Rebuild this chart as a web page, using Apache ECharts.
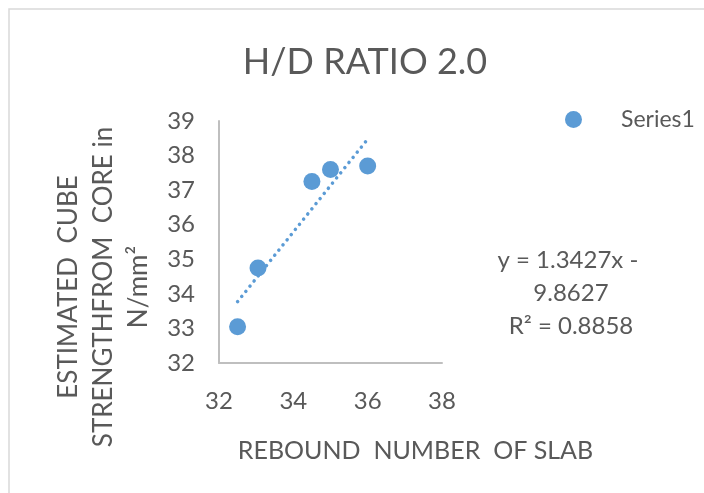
<!DOCTYPE html>
<html>
<head>
<meta charset="utf-8">
<script src="https://cdn.jsdelivr.net/npm/echarts@6/dist/echarts.min.js"></script>
<style>
  html, body { margin: 0; padding: 0; background: #fff; }
  #chart { width: 704px; height: 493px; }
</style>
</head>
<body>
<div id="chart"></div>
<script>
// data
const reboundNumber = [32.5, 33.05, 34.5, 35.0, 36.0];
const cubeStrength = [33.05, 34.75, 37.25, 37.6, 37.7];
// linear trendline as printed on the chart
const trendSlope = 1.3427;
const trendIntercept = -9.8627;
const trendR2 = 0.8858;

const xTicks = [32, 34, 36, 38];
const yTicks = [32, 33, 34, 35, 36, 37, 38, 39];

const textColor = '#595959';
const blue = '#5b9bd5';
const font = 'Lato';

const points = reboundNumber.map((x, i) => [x, cubeStrength[i]]);
const xMin = Math.min(...reboundNumber);
const xMax = Math.max(...reboundNumber);
const trendLine = [xMin, xMax].map(x => [x, trendSlope * x + trendIntercept]);

const myChart = echarts.init(document.getElementById('chart'));

const option = {
  backgroundColor: '#fff',
  animation: false,
  textStyle: { fontFamily: font },
  title: {
    text: 'H/D RATIO 2.0',
    left: 360,
    top: 39,
    textAlign: 'center',
    textStyle: { fontFamily: font, fontSize: 36, fontWeight: 'normal', color: textColor }
  },
  legend: {
    data: [{ name: 'Series1', icon: 'circle' }],
    left: 560,
    top: 103,
    itemWidth: 17,
    itemHeight: 17,
    textStyle: { fontFamily: font, fontSize: 23, color: textColor, padding: [0, 0, 0, 34] }
  },
  grid: { left: 219, top: 121, right: 262, bottom: 130 },
  xAxis: {
    type: 'value',
    min: xTicks[0],
    max: xTicks[xTicks.length - 1],
    interval: 2,
    name: 'REBOUND  NUMBER  OF SLAB',
    nameLocation: 'middle',
    nameGap: 75,
    nameTextStyle: { fontFamily: font, fontSize: 25, color: textColor, padding: [0, 0, 0, 170] },
    axisLine: { lineStyle: { color: '#bfbfbf', width: 2 } },
    axisTick: { show: false },
    splitLine: { show: false },
    axisLabel: { fontFamily: font, fontSize: 24, color: textColor, margin: 26 }
  },
  yAxis: {
    type: 'value',
    min: yTicks[0],
    max: yTicks[yTicks.length - 1],
    interval: 1,
    axisLine: { show: true, lineStyle: { color: '#bfbfbf', width: 2 } },
    axisTick: { show: false },
    splitLine: { show: false },
    axisLabel: { fontFamily: font, fontSize: 24, color: textColor, margin: 24 }
  },
  graphic: [
    {
      type: 'rect',
      shape: { x: 9, y: 9, width: 800, height: 600 },
      style: { fill: 'none', stroke: '#d9d9d9', lineWidth: 1.5 },
      z: -1
    },
    {
      type: 'text',
      x: 104,
      y: 287,
      rotation: Math.PI / 2,
      style: {
        text: 'ESTIMATED  CUBE\nSTRENGTHFROM  CORE in\nN/mm²',
        fontFamily: font,
        fontSize: 26,
        lineHeight: 35,
        fill: textColor,
        align: 'center',
        verticalAlign: 'middle'
      }
    },
    {
      type: 'text',
      x: 571,
      y: 293,
      style: {
        text: 'y = ' + trendSlope + 'x - \n' + Math.abs(trendIntercept) + '\nR² = ' + trendR2,
        fontFamily: font,
        fontSize: 24,
        lineHeight: 33,
        fill: textColor,
        align: 'center',
        verticalAlign: 'middle'
      }
    }
  ],
  series: [
    {
      name: 'Series1',
      type: 'scatter',
      data: points,
      symbolSize: 17,
      itemStyle: { color: blue, opacity: 1 },
      z: 3
    },
    {
      name: 'Linear (Series1)',
      type: 'line',
      data: trendLine,
      showSymbol: false,
      silent: true,
      lineStyle: { color: blue, width: 3.5, type: [0.1, 6.5], cap: 'round' },
      z: 2
    }
  ]
};

myChart.setOption(option);
</script>
</body>
</html>
